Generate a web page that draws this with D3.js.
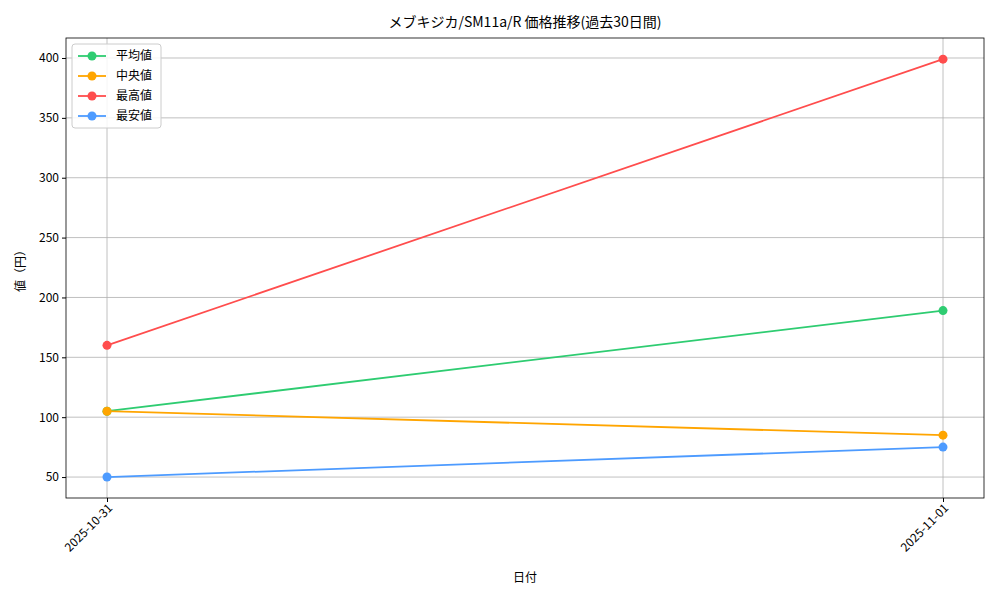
<!DOCTYPE html>
<html><head><meta charset="utf-8">
<script src="https://cdn.jsdelivr.net/npm/d3@7"></script>
<style>body{margin:0;background:#fff}text{font-family:"Noto Sans CJK JP","DejaVu Sans",sans-serif}</style>
</head><body><svg id="c" width="1000" height="600"></svg>
<script>
var dates = ["2025-10-31", "2025-11-01"];
var seriesNames = ["平均値", "中央値", "最高値", "最安値"];
var seriesColors = ["#2ecc71", "#ffa500", "#ff4d4d", "#4d9bff"];
var avgVals = [105, 189];
var medVals = [105, 85];
var maxVals = [160, 399];
var minVals = [50, 75];
var yTicks = [50, 100, 150, 200, 250, 300, 350, 400];
var allVals = [avgVals, medVals, maxVals, minVals];

var svg = d3.select('#c');
var L = 66, R = 984, T = 38, B = 498;
var x = d3.scalePoint().domain(dates).range([107, 943]);
var y = d3.scaleLinear().domain([32.5, 416.7]).range([B, T]);

// grid
svg.selectAll('.gy').data(yTicks).enter().append('line')
  .attr('x1', L).attr('x2', R).attr('y1', d => y(d)).attr('y2', d => y(d))
  .attr('stroke', '#b0b0b0').attr('stroke-width', 0.8);
svg.selectAll('.gx').data(dates).enter().append('line')
  .attr('x1', d => x(d)).attr('x2', d => x(d)).attr('y1', T).attr('y2', B)
  .attr('stroke', '#b0b0b0').attr('stroke-width', 0.8);

// axes
var ya = svg.append('g').attr('transform', 'translate(' + L + ',0)')
  .call(d3.axisLeft(y).tickValues(yTicks).tickSizeOuter(0).tickSize(4));
var xa = svg.append('g').attr('transform', 'translate(0,' + B + ')')
  .call(d3.axisBottom(x).tickSizeOuter(0).tickSize(4));
ya.selectAll('text').style('font-size', '12px').attr('fill', '#000');
xa.selectAll('text').style('font-size', '12px').attr('fill', '#000')
  .attr('text-anchor', 'end').attr('dx', '-0.3em').attr('dy', '0.4em')
  .attr('transform', 'rotate(-45)');
svg.selectAll('.domain').remove();
svg.append('rect').attr('x', L).attr('y', T).attr('width', R - L).attr('height', B - T)
  .attr('fill', 'none').attr('stroke', '#000').attr('stroke-width', 0.8);

// lines
var line = d3.line().x((d, i) => x(dates[i])).y(d => y(d));
allVals.forEach(function(vals, k) {
  svg.append('path').datum(vals).attr('d', line).attr('fill', 'none')
    .attr('stroke', seriesColors[k]).attr('stroke-width', 1.8);
  svg.selectAll('.p' + k).data(vals).enter().append('circle')
    .attr('cx', (d, i) => x(dates[i])).attr('cy', d => y(d)).attr('r', 4.5)
    .attr('fill', seriesColors[k]);
});

// titles
svg.append('text').attr('x', 525).attr('y', 27).attr('text-anchor', 'middle')
  .style('font-size', '14px').text('メブキジカ/SM11a/R 価格推移(過去30日間)');
svg.append('text').attr('x', 525).attr('y', 582).attr('text-anchor', 'middle')
  .style('font-size', '12px').text('日付');
svg.append('text').attr('transform', 'translate(25,' + 268 + ') rotate(-90)')
  .attr('text-anchor', 'middle').style('font-size', '12px').text('値（円）');

// legend
var lg = svg.append('g');
lg.append('rect').attr('x', 72).attr('y', 44).attr('width', 89).attr('height', 84)
  .attr('rx', 3).attr('fill', '#fff').attr('fill-opacity', 0.85).attr('stroke', '#ccc');
seriesNames.forEach(function(n, k) {
  var yy = 56 + k * 20;
  lg.append('line').attr('x1', 78).attr('x2', 106).attr('y1', yy).attr('y2', yy)
    .attr('stroke', seriesColors[k]).attr('stroke-width', 1.8);
  lg.append('circle').attr('cx', 92).attr('cy', yy).attr('r', 4.5).attr('fill', seriesColors[k]);
  lg.append('text').attr('x', 116).attr('y', yy + 4).style('font-size', '12px').text(n);
});
</script></body></html>
